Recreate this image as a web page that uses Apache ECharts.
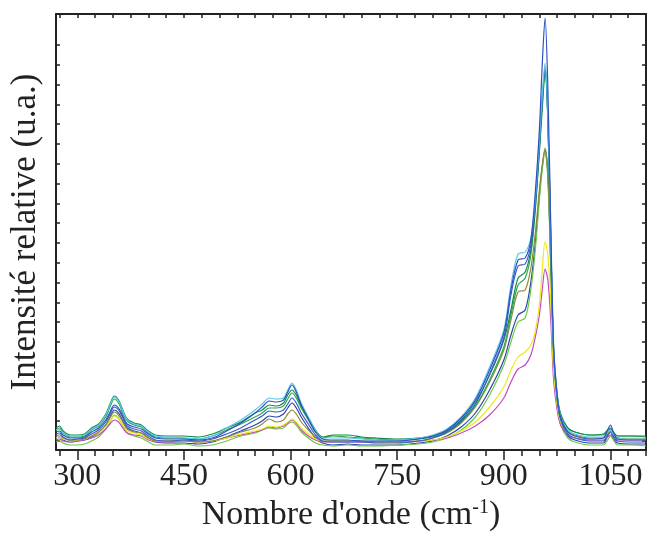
<!DOCTYPE html>
<html>
<head>
<meta charset="utf-8">
<script src="https://cdn.jsdelivr.net/npm/echarts@6/dist/echarts.min.js"></script>
<style>
html,body{margin:0;padding:0;background:#fff;}
#chart{width:649px;height:537px;}
</style>
</head>
<body>
<div id="chart"></div>
<script>
// Wavenumbers (cm-1)
const wavenumbers = [270,275,280,290,300,310,320,330,340,346,352,358,364,370,380,390,400,410,430,450,470,490,510,530,550,560,570,580,590,596,602,608,615,625,635,645,660,680,700,720,750,780,800,820,840,860,880,900,910,920,930,938,944,950,954,958,962,966,970,975,980,990,1000,1020,1040,1046,1050,1054,1060,1080,1100];

// Relative intensities (arbitrary units)
const sCyan   = [20,21,17,14,14,15,21,25,35,45,53,49,39,30,26,24,18,14,13,12,11,14,22,30,40,46,52,51,52,60,67,60,47,33,20,12,12,12,11,10,10,12,15,21,33,52,83,120,165,196,198,212,250,310,355,387,335,215,100,55,33,20,16,13,13,18,20,16,12,11,11];
const sBlueA  = [18,19,15,12,12,13,18,22,30,38,45,42,34,26,23,21,16,12,11,11,10,12,19,27,37,43,49,48,50,58,65,58,45,31,18,11,10,10,9,9,9,11,14,20,32,50,80,117,160,190,192,210,255,320,385,432,360,225,105,55,32,18,14,11,12,20,25,18,11,10,10];
const sBlueB  = [16,17,13,10,11,12,16,20,28,36,43,40,32,24,21,19,14,10,9,10,9,11,16,22,30,34,39,38,40,46,52,47,37,26,15,9,8,8,8,7,7,9,12,18,29,46,76,112,155,184,186,205,245,305,350,383,330,210,98,50,30,16,12,9,9,15,18,14,9,8,8];
const sTeal   = [22,24,19,15,15,16,22,26,36,46,54,50,40,31,27,25,19,15,14,14,13,16,22,28,37,40,45,44,47,55,60,55,44,32,20,13,15,15,13,12,11,12,14,19,30,48,75,110,140,172,178,200,240,300,345,380,330,210,100,55,35,22,18,15,16,20,22,18,14,14,14];
const sGreen  = [20,22,17,13,13,14,20,24,33,43,51,47,37,29,25,23,17,13,12,12,11,14,20,26,33,37,42,42,44,51,57,52,42,30,18,12,14,13,12,11,10,11,13,18,28,44,70,103,135,165,172,195,238,298,340,378,328,212,102,56,36,22,18,15,15,19,21,17,14,14,13];
const sOlive  = [14,15,12,10,10,11,14,18,25,32,38,35,28,21,18,17,12,9,9,9,8,9,13,18,22,26,31,28,30,36,40,36,28,20,13,9,9,9,9,8,8,9,12,17,27,43,68,100,130,158,160,182,215,260,285,302,275,190,95,52,32,19,15,12,12,16,19,15,12,11,11];
const sBlueC  = [12,13,10,8,9,10,13,17,25,33,40,37,29,22,19,17,12,8,7,7,6,8,13,19,25,29,34,33,36,42,47,42,33,22,12,7,5,6,5,5,5,7,9,14,23,37,60,90,115,135,140,168,205,255,283,300,275,185,90,46,27,14,10,7,7,14,18,12,7,6,6];
const sLightG = [8,9,7,5,5,6,9,13,21,28,35,32,24,17,14,12,8,5,5,6,4,5,9,14,17,20,22,21,22,26,28,25,18,12,7,5,4,5,4,4,5,6,8,12,20,33,55,85,108,128,132,160,198,250,280,298,270,182,88,44,25,12,8,5,5,10,14,10,5,5,4];
const sYellow = [12,13,11,9,10,11,14,17,24,29,34,31,25,19,17,15,11,9,9,9,8,9,12,16,19,21,24,23,25,28,31,28,22,16,11,9,9,9,9,8,8,9,10,13,19,28,43,63,80,93,98,105,118,145,180,208,195,150,80,45,28,17,14,12,12,16,18,15,12,12,12];
const sMagenta= [10,11,9,8,9,10,12,15,21,26,30,28,22,17,15,14,10,8,8,9,8,9,12,15,18,20,23,22,24,27,30,27,20,14,10,8,8,8,8,8,8,9,10,12,17,24,35,52,68,81,85,95,112,135,160,181,170,130,70,40,25,15,12,10,10,13,15,12,10,10,10];

const seriesDefs = [
  {name:'S7', values:sBlueC,  color:'#2a46a6'},
  {name:'S8', values:sLightG, color:'#6cc84a'},
  {name:'S10',values:sMagenta,color:'#c04cc0'},
  {name:'S9', values:sYellow, color:'#eee81a'},
  {name:'S6', values:sOlive,  color:'#8e8a3c'},
  {name:'S5', values:sGreen,  color:'#2fa84a'},
  {name:'S4', values:sTeal,   color:'#0e8a52'},
  {name:'S3', values:sBlueB,  color:'#3a5cc8'},
  {name:'S1', values:sCyan,   color:'#5cc6e6'},
  {name:'S2', values:sBlueA,  color:'#2b52c0'}
];

// Axis tick labels
const xLabels = [300,450,600,750,900,1050];
const xMin = 270, xMax = 1100, xMinorStep = 25;
const yMin = 0, yMax = 436;
const yTickStart = 9, yTickStep = 19.8, yTickCount = 21;

const xMinor = [];
for (let v = 275; v <= xMax; v += xMinorStep) xMinor.push(v);
const yTicks = [];
for (let k = 0; k < yTickCount; k++) yTicks.push(yTickStart + k * yTickStep);

const FONT = '"Liberation Serif","Times New Roman",serif';
const AX = '#222';

const chart = echarts.init(document.getElementById('chart'), null, {renderer:'canvas'});
chart.setOption({
  animation:false,
  backgroundColor:'#fff',
  grid:{left:56, right:3, top:14, bottom:87, containLabel:false},
  xAxis:[
    {type:'value', min:xMin, max:xMax, position:'bottom',
     axisLine:{show:true, lineStyle:{color:AX, width:2}},
     axisTick:{show:true, inside:false, length:10, customValues:xLabels, lineStyle:{color:AX, width:1.5}},
     axisLabel:{show:true, customValues:xLabels, margin:11, fontFamily:FONT, fontSize:32, color:'#222',
       formatter:v => String(v)},
     splitLine:{show:false},
     name:"Nombre d'onde (cm{sup|-1})", nameLocation:'middle', nameGap:36,
     nameTextStyle:{fontFamily:FONT, fontSize:34, color:'#222',
       rich:{sup:{fontFamily:FONT, fontSize:20, color:'#222', verticalAlign:'top'}}}
    },
    {type:'value', min:xMin, max:xMax, position:'bottom',
     axisLine:{show:false},
     axisTick:{show:true, inside:false, length:6, customValues:xMinor, lineStyle:{color:AX, width:1.5}},
     axisLabel:{show:false}, splitLine:{show:false}},
    {type:'value', min:xMin, max:xMax, position:'top',
     axisLine:{show:true, lineStyle:{color:AX, width:2}},
     axisTick:{show:true, inside:true, length:4, customValues:xMinor, lineStyle:{color:AX, width:1.5}},
     axisLabel:{show:false}, splitLine:{show:false}}
  ],
  yAxis:[
    {type:'value', min:yMin, max:yMax, position:'left',
     axisLine:{show:true, lineStyle:{color:AX, width:2}},
     axisTick:{show:true, inside:true, length:4, customValues:yTicks, lineStyle:{color:AX, width:1.5}},
     axisLabel:{show:false}, splitLine:{show:false},
     name:'Intensité relative (u.a.)', nameLocation:'middle', nameGap:13, nameRotate:90,
     nameTextStyle:{fontFamily:FONT, fontSize:35, color:'#222'}
    },
    {type:'value', min:yMin, max:yMax, position:'right',
     axisLine:{show:true, lineStyle:{color:AX, width:2}},
     axisTick:{show:true, inside:true, length:4, customValues:yTicks, lineStyle:{color:AX, width:1.5}},
     axisLabel:{show:false}, splitLine:{show:false}}
  ],
  series: seriesDefs.map(d => ({
    name:d.name, type:'line', xAxisIndex:0, yAxisIndex:0,
    data: wavenumbers.map((x,i) => [x, d.values[i]]),
    showSymbol:false, smooth:0.3, clip:true,
    lineStyle:{color:d.color, width:1.2}
  }))
});
</script>
</body>
</html>
